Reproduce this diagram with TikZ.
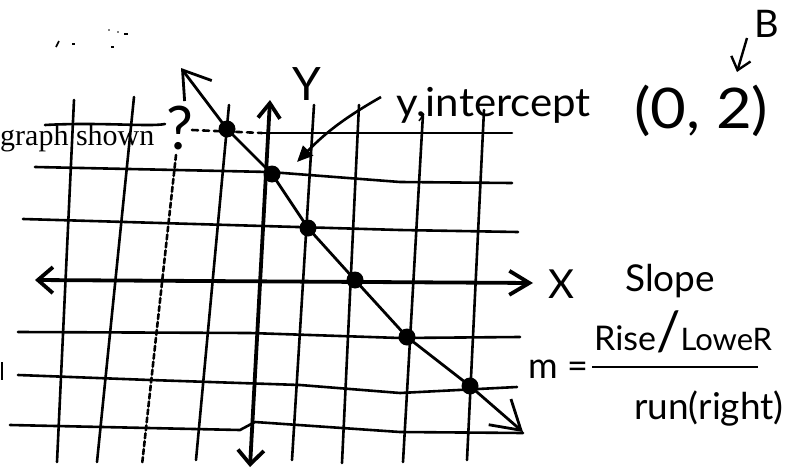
\documentclass[tikz,border=0pt]{standalone}
\usepackage{fontspec}
\usepackage{graphicx}
\setmainfont{Liberation Serif}
\newfontfamily\hand{Lato}
\usetikzlibrary{arrows.meta}
\tikzset{
  grid line/.style={line width=2.6pt, line cap=round},
  axis line/.style={line width=3.8pt, line cap=round},
  plot line/.style={line width=2.8pt},
  dot/.style={circle, fill=black, inner sep=0pt, minimum size=17pt},
  hw/.style={inner sep=0pt, font=\hand},
  speck/.style={line width=1.6pt},
  note arrow/.style={line width=2.6pt, -{Triangle[length=16pt,width=14pt]}}
}
\begin{document}
\begin{tikzpicture}[x=1pt,y=-1pt]
\useasboundingbox (0,0) rectangle (801,471);
% --- specks
\draw[speck] (56,47) -- (59,41);
\draw[speck] (72,44) -- (75,44);
\draw[speck] (111,47) -- (114,47);
\fill (109,30) circle (0.8);
\fill (118,32) circle (0.8);
\draw[speck] (124,34) -- (128,34);
\draw[speck] (2,362) -- (2,380);
% --- grid: vertical lines
\draw[grid line] (74,100) -- (57,462);
\draw[grid line] (134,97) -- (97,462);
\draw[grid line, dash pattern=on 5pt off 3pt] (176,155) -- (142,465);
\draw[grid line] (229,105) -- (196,460);
\draw[grid line] (314,105) -- (292,460);
\draw[grid line] (359,105) -- (342,463);
\draw[grid line] (423,114) -- (403,462);
\draw[grid line] (484,110) -- (467,460);
% --- grid: horizontal lines
\draw[grid line] (45,125) .. controls (100,122) and (150,127) .. (165,124);
\draw[grid line, dash pattern=on 6pt off 5pt] (192,130) -- (262,133);
\draw[grid line] (262,133) -- (512,133);
\draw[grid line] (35,167) -- (270,172) -- (400,182) -- (512,183);
\draw[grid line] (23,219) -- (400,230) -- (518,232);
\draw[grid line] (18,332) -- (250,333) -- (400,338) -- (520,337);
\draw[grid line] (18,375) -- (150,380) -- (300,385) -- (400,393) -- (517,387);
\draw[grid line] (10,425) -- (240,430) -- (255,422) -- (400,432) -- (523,433);
% --- axes
\coordinate (xl) at (35,280);
\coordinate (xr) at (533,283);
\coordinate (yt) at (270,100);
\coordinate (yb) at (250,467);
\draw[axis line, {Straight Barb[length=15pt,width=26pt]}-{Straight Barb[length=20pt,width=24pt]}] (xl) -- (xr);
\draw[axis line, {Straight Barb[length=15pt,width=22pt]}-{Straight Barb[length=14pt,width=26pt]}] (yt) -- (yb);
% --- plotted points and line
\node[dot] (d1) at (227,129) {};
\node[dot] (d2) at (272,174) {};
\node[dot] (d3) at (308,228) {};
\node[dot] (d4) at (355,280) {};
\node[dot] (d5) at (407,337) {};
\node[dot] (d6) at (470,386) {};
\coordinate (lt) at (181,68);
\coordinate (lb) at (523,432);
\draw[plot line, {Straight Barb[length=26pt,width=34pt]}-{Straight Barb[length=28pt,width=34pt]}]
  (lt) -- (d1.center) -- (d2.center) -- (d3.center) -- (d4.center) -- (d5.center) -- (d6.center) -- (lb);
% --- labels
\node[hw, font=\hand\fontsize{46}{46}\selectfont] (ylab) at (307,84) {Y};
\node[hw, font=\hand\fontsize{40}{40}\selectfont] (xlab) at (561,284) {X};
\node[hw, font=\hand\fontsize{60}{60}\selectfont] (q) at (180,128) {?};
\node[inner sep=0pt, anchor=base west, font=\fontsize{30}{30}\selectfont] (gs) at (0,145) {graph shown};
\node[hw, anchor=base west, font=\hand\fontsize{40}{40}\selectfont] (yint) at (396,116) {\scalebox{1.05}[1]{y,intercept}};
\node[hw, anchor=base west, font=\hand\fontsize{56}{56}\selectfont] (pt) at (634,128) {\scalebox{1.1}[1]{(0, 2)}};
\node[hw, font=\hand\fontsize{38}{38}\selectfont] (B) at (767,24) {B};
\node[hw, anchor=base west, font=\hand\fontsize{37}{37}\selectfont] (slope) at (625,291) {Slope};
\node[hw, anchor=base west, font=\hand\fontsize{36}{36}\selectfont] (m) at (528,378) {m =};
\node[hw, anchor=base west] (num) at (594,350) {{\fontsize{34}{34}\selectfont Rise}{\fontsize{54}{54}\selectfont /}{\fontsize{31}{31}\selectfont LoweR}};
\node[hw, anchor=base west, font=\hand\fontsize{37}{37}\selectfont] (den) at (634,419) {run(right)};
\coordinate (fl) at (592,367);
\coordinate (fr) at (758,367);
\draw[line width=2.6pt] (fl) -- (fr);
% --- annotation arrows
\coordinate (ya) at (381,97);
\coordinate (yt2) at (297,162);
\draw[note arrow] (ya) to[bend right=8] (yt2);
\coordinate (ba) at (747,38);
\coordinate (bt) at (737,72);
\draw[line width=2.4pt, -{Straight Barb[length=12pt,width=20pt]}] (ba) -- (bt);
\end{tikzpicture}
\end{document}
